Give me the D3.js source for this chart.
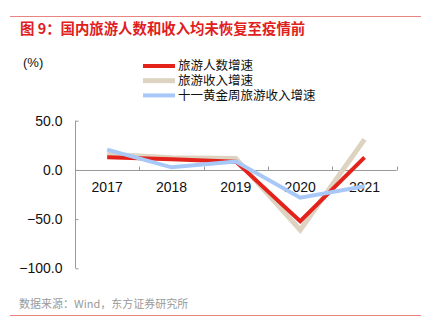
<!DOCTYPE html>
<html>
<head>
<meta charset="utf-8">
<script src="https://cdn.jsdelivr.net/npm/d3@7"></script>
<style>
  body { margin: 0; background: #fff; }
  svg { display: block; }
  text { font-family: "Liberation Sans", Arial, "Noto Sans CJK SC", sans-serif; }
</style>
</head>
<body>
<svg id="chart" width="441" height="335"></svg>
<script>
const years = ["2017", "2018", "2019", "2020", "2021"];
const touristGrowth = [12.8, 10.8, 8.4, -52.1, 12.8];
const revenueGrowth = [15.9, 12.3, 11.7, -61.1, 31.0];
const goldenWeekGrowth = [20.6, 2.6, 8.5, -28.2, -16.6];
const yTicks = [50, 0, -50, -100];
const seriesNames = ["旅游人数增速", "旅游收入增速", "十一黄金周旅游收入增速"];
const seriesColors = ["#e3231b", "#ddd3c0", "#a8c8f8"];

const svg = d3.select("#chart");
const cjk = '"Noto Sans CJK SC", "Liberation Sans", sans-serif';

// frame rules and title
svg.append("line").attr("x1", 10).attr("x2", 421).attr("y1", 16.5).attr("y2", 16.5)
  .attr("stroke", "#e98580").attr("stroke-width", 1);
svg.append("line").attr("x1", 10).attr("x2", 421).attr("y1", 315.5).attr("y2", 315.5)
  .attr("stroke", "#e98580").attr("stroke-width", 1);
svg.append("text").attr("x", 20).attr("y", 33.5)
  .style("font-family", cjk).style("font-size", "14.4px").style("font-weight", "bold")
  .attr("fill", "#e0201c").text("图 9：国内旅游人数和收入均未恢复至疫情前");
svg.append("text").attr("x", 19).attr("y", 308)
  .style("font-family", cjk).style("font-size", "11px")
  .attr("fill", "#9a9a9a").text("数据来源：Wind，东方证券研究所");

const x = d3.scaleBand().domain(years).range([75, 396.7]);
const y = d3.scaleLinear().domain([-100, 50]).range([268.3, 120.7]);

// y axis, ticks pointing inward
const yAxis = svg.append("g").attr("transform", "translate(75.5,0)")
  .call(d3.axisLeft(y).tickValues(yTicks).tickSize(-3).tickPadding(13).tickFormat(d3.format(".1f")));
yAxis.select(".domain").attr("stroke", "#999").attr("d", `M-0,${y(50)}H0V${y(-100)}H-0`);
yAxis.selectAll(".tick line").attr("stroke", "#999");
yAxis.selectAll(".tick text").style("font-size", "14px").attr("fill", "#111")
  .style("font-family", '"Liberation Sans", Arial, sans-serif');

svg.append("text").attr("x", 23).attr("y", 66.5).style("font-size", "13px")
  .attr("fill", "#111").text("(%)");

// x axis at zero, ticks at band boundaries pointing upward
const y0 = Math.round(y(0)) + 0.5;
svg.append("line").attr("x1", 75).attr("x2", 396.7).attr("y1", y0).attr("y2", y0)
  .attr("stroke", "#999");
const bounds = years.map(d => x(d)).concat([x.range()[1]]);
svg.selectAll(".xtick").data(bounds).join("line").attr("class", "xtick")
  .attr("x1", d => Math.round(d) + 0.5).attr("x2", d => Math.round(d) + 0.5)
  .attr("y1", y0).attr("y2", y0 - 4).attr("stroke", "#999");
svg.selectAll(".xlabel").data(years).join("text").attr("class", "xlabel")
  .attr("x", d => x(d) + x.bandwidth() / 2).attr("y", 192)
  .attr("text-anchor", "middle").style("font-size", "14px").attr("fill", "#111")
  .text(d => d);

// series lines
const line = d3.line().x((d, i) => x(years[i]) + x.bandwidth() / 2).y(d => y(d));
const series = [
  { name: seriesNames[1], values: revenueGrowth, color: seriesColors[1], w: 5 },
  { name: seriesNames[0], values: touristGrowth, color: seriesColors[0], w: 4 },
  { name: seriesNames[2], values: goldenWeekGrowth, color: seriesColors[2], w: 4 }
];
svg.selectAll(".series").data(series).join("path").attr("class", "series")
  .attr("d", d => line(d.values)).attr("fill", "none")
  .attr("stroke", d => d.color).attr("stroke-width", d => d.w)
  .attr("stroke-linejoin", "miter");

// legend (Latin font first keeps the line box compact; CJK glyphs fall back)
const legend = svg.append("g");
seriesNames.forEach((name, i) => {
  const ly = 66 + i * 14.7;
  legend.append("line").attr("x1", 143).attr("x2", 175).attr("y1", ly).attr("y2", ly)
    .attr("stroke", seriesColors[i]).attr("stroke-width", i === 1 ? 5 : 4);
  legend.append("text").attr("x", 178).attr("y", ly + 4.3)
    .style("font-family", '"Liberation Sans", "Noto Sans CJK SC", sans-serif')
    .style("font-size", "12.5px").attr("fill", "#111").text(name);
});
</script>
</body>
</html>
